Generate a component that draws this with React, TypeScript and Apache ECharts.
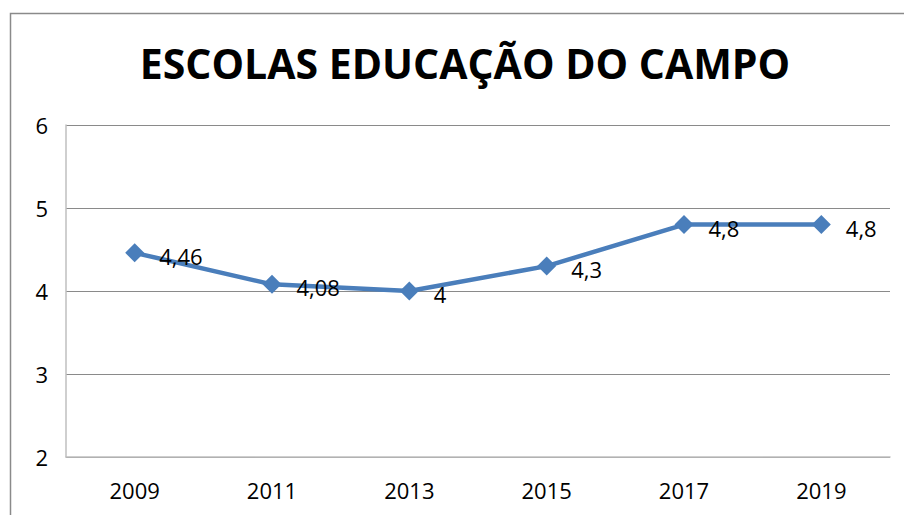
import React, { useEffect, useRef } from "react";
import * as echarts from "echarts";

const categories = ["2009", "2011", "2013", "2015", "2017", "2019"];
const values = [4.46, 4.08, 4, 4.3, 4.8, 4.8];
const yTicks = [2, 3, 4, 5, 6];
const titleText = "ESCOLAS EDUCAÇÃO DO CAMPO";

export default function App() {
  const ref = useRef<HTMLDivElement>(null);
  useEffect(() => {
    if (!ref.current) return;
    const chart = echarts.init(ref.current, null, { renderer: "svg" });
    const font = "'Open Sans', 'Liberation Sans', sans-serif";
    chart.setOption({
      animation: false,
      backgroundColor: "#ffffff",
      title: {
        text: titleText,
        left: 460,
        top: 37,
        textAlign: "center",
        textStyle: { fontFamily: font, fontSize: 41, fontWeight: "bold", color: "#000" },
      },
      graphic: [
        {
          type: "rect",
          shape: { x: 10.5, y: 13.5, width: 1000, height: 1000 },
          style: { fill: "none", stroke: "#8a8a8a", lineWidth: 1.5 },
          silent: true,
        },
      ],
      grid: { left: 66, right: 14, top: 125, bottom: 58, containLabel: false },
      xAxis: {
        type: "category",
        data: categories,
        boundaryGap: true,
        axisLine: { show: true, lineStyle: { color: "#bfbfbf", width: 1.5 } },
        axisTick: { show: false },
        axisLabel: { fontFamily: font, fontSize: 22, color: "#000", margin: 22 },
      },
      yAxis: {
        type: "value",
        min: yTicks[0],
        max: yTicks[yTicks.length - 1],
        interval: 1,
        axisLine: { show: true, lineStyle: { color: "#bfbfbf", width: 1.5 } },
        axisTick: { show: false },
        splitLine: { show: true, lineStyle: { color: "#8a8a8a", width: 1 } },
        axisLabel: { fontFamily: font, fontSize: 22, color: "#000", margin: 18 },
      },
      series: [
        {
          type: "line",
          data: values,
          symbol: "diamond",
          symbolSize: 19,
          lineStyle: { color: "#4a7ebb", width: 4.5 },
          itemStyle: { color: "#4a7ebb" },
          label: {
            show: true,
            position: "right",
            distance: 15,
            offset: [0, 3],
            fontFamily: font,
            fontSize: 22,
            color: "#000",
            formatter: (p: any) => String(p.value).replace(".", ","),
          },
        },
      ],
    });
    return () => chart.dispose();
  }, []);
  return (
    <div
      ref={ref}
      style={{ position: "fixed", left: 0, top: 0, width: 904, height: 515 }}
    />
  );
}
